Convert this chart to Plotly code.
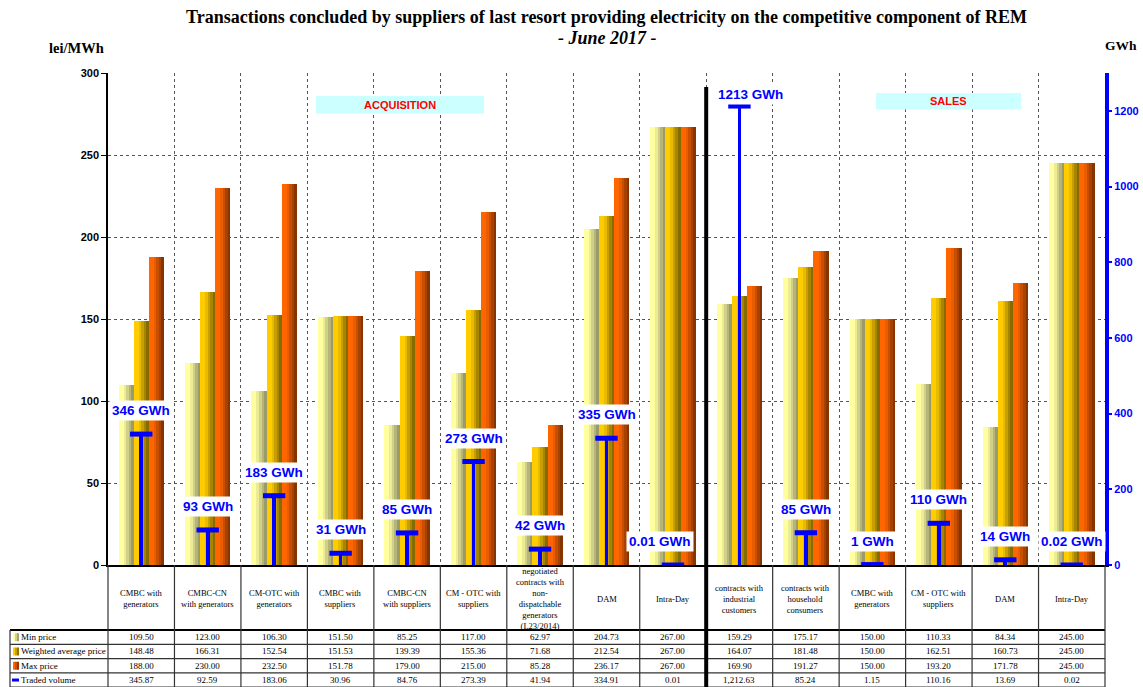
import plotly.graph_objects as go

# ---------------- data ----------------
categories = [
    "CMBC with<br>generators",
    "CMBC-CN<br>with generators",
    "CM-OTC with<br>generators",
    "CMBC with<br>suppliers",
    "CMBC-CN<br>with suppliers",
    "CM - OTC with<br>suppliers",
    "negotiated<br>contracts with<br>non-<br>dispatchable<br>generators<br>(L23/2014)",
    "DAM",
    "Intra-Day",
    "contracts with<br>industrial<br>customers",
    "contracts with<br>household<br>consumers",
    "CMBC with<br>generators",
    "CM - OTC with<br>suppliers",
    "DAM",
    "Intra-Day",
]
min_price = [109.50, 123.00, 106.30, 151.50, 85.25, 117.00, 62.97, 204.73, 267.00,
             159.29, 175.17, 150.00, 110.33, 84.34, 245.00]
avg_price = [148.48, 166.31, 152.54, 151.53, 139.39, 155.36, 71.68, 212.54, 267.00,
             164.07, 181.48, 150.00, 162.51, 160.73, 245.00]
max_price = [188.00, 230.00, 232.50, 151.78, 179.00, 215.00, 85.28, 236.17, 267.00,
             169.90, 191.27, 150.00, 193.20, 171.78, 245.00]
traded_volume = [345.87, 92.59, 183.06, 30.96, 84.76, 273.39, 41.94, 334.91, 0.01,
                 1212.63, 85.24, 1.15, 110.16, 13.69, 0.02]
row_names = ["Min price", "Weighted average price", "Max price", "Traded volume"]
left_ticks = [0, 50, 100, 150, 200, 250, 300]
right_ticks = [0, 200, 400, 600, 800, 1000, 1200]
n_acquisition = 9

# label nudges (pixels), layout only
label_xshift = {8: -13, 9: 11}

# ---------------- geometry ----------------
W, H = 1143, 687
L, R, T, B = 108, 38, 73, 122
PW, PH = W - L - R, H - T - B
Y1_MAX, Y2_MAX = 300, 1300
n = len(categories)
xs = list(range(n))


def pxx(px):
    return (px - L) / PW


def pyy(py):
    return (H - B - py) / PH


def bound_px(k):
    return L + k * PW / n


def lerp(c1, c2, f):
    return "rgb(%d,%d,%d)" % tuple(round(a + (b - a) * f) for a, b in zip(c1, c2))


gradients = [((255, 255, 160), (140, 140, 100)),
             ((255, 204, 0), (118, 94, 0)),
             ((255, 102, 0), (118, 46, 0))]
series = [min_price, avg_price, max_price]

fig = go.Figure()
NSTRIP = 6
BW = 0.228
G0 = -1.5 * BW
for s, vals in enumerate(series):
    light, dark = gradients[s]
    for k in range(NSTRIP):
        t = (k + 0.5) / NSTRIP
        f = max(0.0, (t - 0.3) / 0.7)
        fig.add_trace(go.Bar(
            x=xs, y=vals, offset=G0 + s * BW + k * BW / NSTRIP, width=BW / NSTRIP * 1.02,
            marker=dict(color=lerp(light, dark, f), line=dict(width=0)),
            showlegend=False, hoverinfo="skip"))

BLUE = "#0000FF"
fig.add_trace(go.Bar(x=xs, y=traded_volume, yaxis="y2", width=0.056,
                     marker=dict(color=BLUE, line=dict(width=0)),
                     showlegend=False, hoverinfo="skip"))
fig.add_trace(go.Scatter(x=xs, y=traded_volume, yaxis="y2", mode="markers",
                         marker=dict(symbol="line-ew", size=16,
                                     line=dict(color=BLUE, width=5)),
                         showlegend=False, hoverinfo="skip"))

ann = []
shapes = []
SERIF = "Liberation Serif, Times New Roman, serif"
SANS = "Liberation Sans, Arial, sans-serif"

# volume labels
px_per_gwh = PH / Y2_MAX
top_limit = (H - B - 105) / px_per_gwh
for i, v in enumerate(traded_volume):
    txt = ("%.2f GWh" % v) if v < 0.5 else ("%d GWh" % round(v))
    ylab = min(v + 13 / px_per_gwh, top_limit)
    ann.append(dict(x=i, y=ylab, xref="x", yref="y2", text="<b>%s</b>" % txt,
                    showarrow=False, yanchor="bottom", xanchor="center",
                    xshift=label_xshift.get(i, 0),
                    font=dict(family=SANS, size=13.5, color=BLUE),
                    bgcolor="white", borderpad=2))

# titles
ann.append(dict(x=0.5, y=pyy(17), xref="paper", yref="paper", showarrow=False,
                text="<b>Transactions concluded by suppliers of last resort providing electricity on the competitive component of REM</b>",
                font=dict(family=SERIF, size=18, color="black"),
                xanchor="center", yanchor="middle"))
ann.append(dict(x=pxx(607), y=pyy(38), xref="paper", yref="paper", showarrow=False,
                text="<b><i>- June 2017 -</i></b>",
                font=dict(family=SERIF, size=18, color="black"),
                xanchor="center", yanchor="middle"))
ann.append(dict(x=pxx(76), y=pyy(48), xref="paper", yref="paper", showarrow=False,
                text="<b>lei/MWh</b>", font=dict(family=SERIF, size=14.5, color="black"),
                xanchor="center", yanchor="middle"))
ann.append(dict(x=pxx(1121), y=pyy(45), xref="paper", yref="paper", showarrow=False,
                text="<b>GWh</b>", font=dict(family=SERIF, size=13.5, color="black"),
                xanchor="center", yanchor="middle"))

# section boxes
for (x0, x1, y0, y1, label) in [(316, 484, 96, 113.5, "ACQUISITION"),
                                (876, 1021, 93, 109.5, "SALES")]:
    shapes.append(dict(type="rect", xref="paper", yref="paper",
                       x0=pxx(x0), x1=pxx(x1), y0=pyy(y1), y1=pyy(y0),
                       fillcolor="#CCFFFF", line=dict(width=0), layer="above"))
    ann.append(dict(x=pxx((x0 + x1) / 2), y=pyy((y0 + y1) / 2), xref="paper", yref="paper",
                    showarrow=False, text="<b>%s</b>" % label,
                    font=dict(family=SANS, size=11, color="#FF0000"),
                    xanchor="center", yanchor="middle"))

# table
LINE = "#333333"
row_edges = [630, 644.3, 658.6, 672.9, 687.2]
header_mid = (H - B + row_edges[0]) / 2 + 1
for i, c in enumerate(categories):
    ann.append(dict(x=i, y=pyy(header_mid), xref="x", yref="paper", showarrow=False,
                    text=c, font=dict(family=SERIF, size=8.5, color="black"),
                    yanchor="middle", xanchor="center"))
table_rows = [min_price, avg_price, max_price, traded_volume]
for r, vals in enumerate(table_rows):
    yc = (row_edges[r] + row_edges[r + 1]) / 2
    for i, v in enumerate(vals):
        ann.append(dict(x=i, y=pyy(yc), xref="x", yref="paper", showarrow=False,
                        text="{:,.2f}".format(v),
                        font=dict(family=SERIF, size=9, color="black"),
                        yanchor="middle", xanchor="center"))
    ann.append(dict(x=pxx(19), y=pyy(yc), xref="paper", yref="paper", showarrow=False,
                    text=row_names[r], font=dict(family=SERIF, size=9, color="black"),
                    yanchor="middle", xanchor="left"))
    # legend keys
    if r < 3:
        light, dark = gradients[r]
        for k in range(3):
            shapes.append(dict(type="rect", xref="paper", yref="paper",
                               x0=pxx(13 + 2 * k), x1=pxx(15 + 2 * k),
                               y0=pyy(yc + 4), y1=pyy(yc - 4),
                               fillcolor=lerp(light, dark, k / 2.5), line=dict(width=0)))
    else:
        shapes.append(dict(type="rect", xref="paper", yref="paper",
                           x0=pxx(12), x1=pxx(19), y0=pyy(yc + 1.5), y1=pyy(yc - 1.5),
                           fillcolor=BLUE, line=dict(width=0)))

for j, ye in enumerate(row_edges):
    shapes.append(dict(type="line", xref="paper", yref="paper",
                       x0=pxx(10), x1=pxx(bound_px(n)), y0=pyy(ye), y1=pyy(ye),
                       line=dict(color="black" if j == 0 else LINE, width=2 if j == 0 else 1.2)))
for k in range(n + 1):
    shapes.append(dict(type="line", xref="paper", yref="paper",
                       x0=pxx(bound_px(k)), x1=pxx(bound_px(k)),
                       y0=pyy(H - B), y1=pyy(H),
                       line=dict(color=LINE, width=1.2)))
shapes.append(dict(type="line", xref="paper", yref="paper",
                   x0=pxx(10), x1=pxx(10), y0=pyy(row_edges[0]), y1=pyy(H),
                   line=dict(color=LINE, width=1.2)))
# separator between acquisition and sales
shapes.append(dict(type="line", xref="paper", yref="paper",
                   x0=pxx(bound_px(n_acquisition)), x1=pxx(bound_px(n_acquisition)),
                   y0=pyy(87), y1=pyy(H), line=dict(color="black", width=4)))

GRID = "#555555"
fig.update_layout(
    width=W, height=H,
    margin=dict(l=L, r=R, t=T, b=B, autoexpand=False),
    paper_bgcolor="white", plot_bgcolor="white",
    barmode="overlay", bargap=0,
    showlegend=False,
    xaxis=dict(range=[-0.5, n - 0.5], tickvals=[k - 0.5 for k in range(1, n)],
               showticklabels=False, ticks="", showgrid=True, gridcolor=GRID,
               griddash="dot", gridwidth=1, showline=True, linecolor="black",
               linewidth=2, zeroline=False, fixedrange=True),
    yaxis=dict(range=[0, Y1_MAX], tickvals=left_ticks, showgrid=True, gridcolor=GRID,
               griddash="dot", gridwidth=1, showline=True, linecolor="black",
               linewidth=1.5, ticks="outside", ticklen=5, tickcolor="black",
               tickfont=dict(family=SANS, size=11, color="black", weight="bold"),
               zeroline=False),
    yaxis2=dict(range=[0, Y2_MAX], tickvals=right_ticks, overlaying="y", side="right",
                showgrid=False, showline=True, linecolor=BLUE, linewidth=4,
                ticks="outside", ticklen=3, tickwidth=2, tickcolor=BLUE,
                tickfont=dict(family=SANS, size=11, color=BLUE, weight="bold"),
                zeroline=False),
    annotations=ann,
    shapes=shapes,
)

fig.write_html("out.html")
